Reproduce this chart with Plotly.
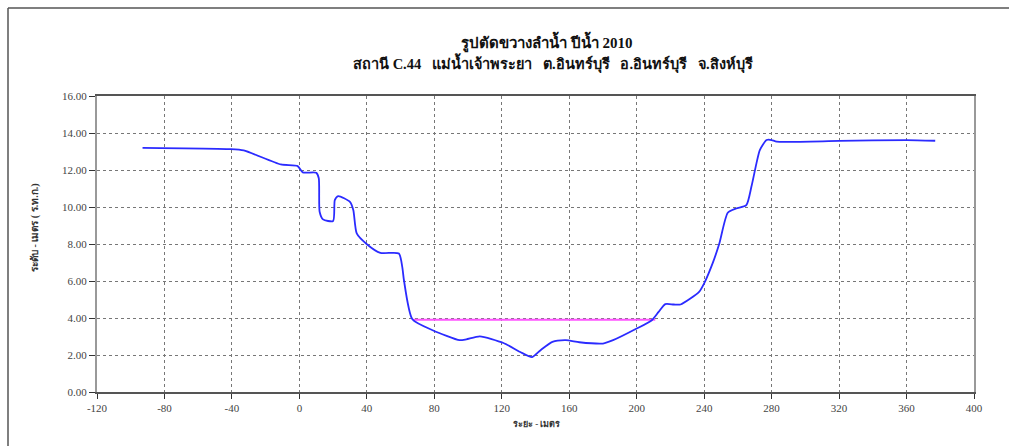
import plotly.graph_objects as go

# Cross-section survey: distance (m) vs. bed elevation (m MSL)
dist = [-93, -41, -33, -11, -1, 2, 10, 11.5, 12, 14, 20, 21, 23, 30, 32, 34, 40, 48, 59, 61,
        62, 67, 79, 95, 99, 107, 121, 131, 138, 143, 150, 158, 166, 180, 186, 200, 209, 213,
        217, 222, 226, 237, 240, 245, 249, 254, 259, 265, 268, 271, 273, 277, 280, 283, 320,
        360, 377]
elev = [13.20, 13.13, 13.06, 12.30, 12.21, 11.87, 11.85, 11.55, 9.74, 9.33, 9.24, 10.37,
        10.59, 10.28, 9.83, 8.57, 7.99, 7.52, 7.49, 6.76, 6.04, 3.93, 3.34, 2.80, 2.85, 3.01,
        2.65, 2.16, 1.89, 2.26, 2.71, 2.80, 2.69, 2.62, 2.80, 3.43, 3.88, 4.33, 4.75, 4.73,
        4.73, 5.41, 5.87, 6.95, 8.03, 9.69, 9.92, 10.10, 11.09, 12.36, 13.08, 13.62, 13.62,
        13.53, 13.57, 13.62, 13.58]

# Water surface
water_x = [67.5, 211]
water_level = [3.90, 3.90]

x_ticks = list(range(-120, 401, 40))
x_tick_text = [str(v) for v in x_ticks]
y_ticks = [0, 2, 4, 6, 8, 10, 12, 14, 16]
y_tick_text = [f"{v:.2f}" for v in y_ticks]

title_1 = "รูปตัดขวางลำน้ำ ปีน้ำ 2010"
title_2_parts = ["สถานี C.44", "แม่น้ำเจ้าพระยา", "ต.อินทร์บุรี", "อ.อินทร์บุรี", "จ.สิงห์บุรี"]
y_title = "ระดับ - เมตร ( ร.ท.ก.)"
x_title = "ระยะ - เมตร"

FONT = "Liberation Serif, 'Times New Roman', serif"
GAP = "\u00a0\u00a0 "
title_2 = GAP.join(title_2_parts)

fig = go.Figure()
fig.add_trace(go.Scatter(x=water_x, y=water_level, mode="lines",
                         line=dict(color="#ff55ff", width=2), hoverinfo="skip"))
fig.add_trace(go.Scatter(x=dist, y=elev, mode="lines",
                         line=dict(color="#2b2bff", width=1.8, shape="spline", smoothing=0.6)))

W, H = 1009, 446
L, R, T, B = 97, 35, 96, 54
pw, ph = W - L - R, H - T - B


def px(x):
    return (x - L) / pw


def py(y):
    return (H - B - y) / ph


def label(text, x, y, size, color="#111", angle=0):
    return dict(text=text, x=px(x), y=py(y), xref="paper", yref="paper",
                xanchor="center", yanchor="middle", showarrow=False, textangle=angle,
                font=dict(size=size, color=color, family=FONT))


fig.update_layout(
    width=W, height=H,
    margin=dict(l=L, r=R, t=T, b=B),
    paper_bgcolor="white", plot_bgcolor="white",
    showlegend=False,
    font=dict(family=FONT, color="#333"),
    xaxis=dict(range=[-120, 400], tickvals=x_ticks, ticktext=x_tick_text, ticks="outside",
               ticklen=5, tickcolor="#333", showline=True, linecolor="#555", linewidth=1.5,
               mirror=True, showgrid=True, gridcolor="#777", griddash="dot",
               gridwidth=1, zeroline=False, tickfont=dict(size=11, color="#444", family=FONT)),
    yaxis=dict(range=[0, 16], tickvals=y_ticks, ticktext=y_tick_text, ticks="outside",
               ticklen=6, tickcolor="#333", showline=True, linecolor="#999", linewidth=2,
               mirror=True, showgrid=True, gridcolor="#777", griddash="dot", gridwidth=1,
               zeroline=False, tickfont=dict(size=11, color="#444", family=FONT)),
    annotations=[
        label(f"<b>{title_1}</b>", 547, 42, 15),
        label(f"<b>{title_2}</b>", 553, 63, 14.5),
        label(f"<b>{y_title}</b>", 35, 228, 10, "#333", -90),
        label(f"<b>{x_title}</b>", 537, 424, 9, "#333"),
    ],
    shapes=[
        dict(type="line", xref="paper", yref="paper", x0=px(8), x1=px(W + 5),
             y0=py(8), y1=py(8), line=dict(color="#555", width=1.5)),
        dict(type="line", xref="paper", yref="paper", x0=px(8), x1=px(8),
             y0=py(8), y1=py(H + 5), line=dict(color="#555", width=1.5)),
    ],
)

fig.write_html("out.html")
